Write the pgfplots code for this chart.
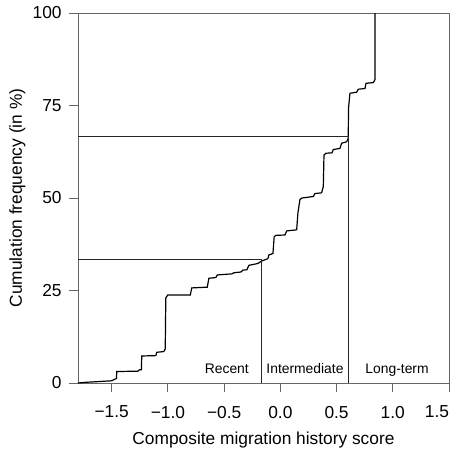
\documentclass[border=0pt]{standalone}
\usepackage{pgfplots}
\pgfplotsset{compat=1.18}
\usepackage{fontspec}
\setmainfont{Liberation Sans}

\begin{document}
\begin{tikzpicture}
\begin{axis}[
  scale only axis,
  width=278.25pt, height=277.5pt,
  xmin=-1.8, xmax=1.5,
  ymin=0, ymax=100,
  xtick={-1.5,-1,-0.5,0,0.5,1},
  xticklabels={−1.5,−1.0,−0.5,0.0,0.5,1.0},
  extra x ticks={1.5},
  extra x tick labels={1.5},
  extra x tick style={xticklabel style={xshift=-9pt}},
  ytick={0,25,50,75,100},
  xtick pos=bottom, ytick pos=left,
  tick align=outside,
  major tick length=6.75pt,
  axis line style={gray!80!black, line width=0.7pt},
  every tick/.style={gray!80!black, line width=0.7pt},
  tick label style={font=\fontsize{13}{15}\selectfont},
  /pgf/number format/assume math mode=true,
  xticklabel style={yshift=-7pt},
  yticklabel style={xshift=-2pt},
  label style={font=\fontsize{13}{15}\selectfont},
  xlabel={Composite migration history score},
  ylabel={Cumulation frequency (in \%)},
  xlabel style={at={(axis description cs:0.5,0)}, anchor=base, yshift=-45.75pt},
  ylabel style={yshift=-1.5pt},
  clip=false,
]
% empirical cumulative distribution
\addplot[black, line width=0.9pt] coordinates {
(-1.800,0) (-1.723,0.2) (-1.607,0.4) (-1.500,0.6) (-1.482,0.9) (-1.458,1.2)
(-1.455,3.1) (-1.268,3.2) (-1.251,3.6) (-1.236,3.6) (-1.233,7.3) (-1.108,7.4)
(-1.099,8.3) (-1.037,8.5) (-1.024,9.2) (-1.019,23.0) (-1.001,23.8) (-0.801,23.8)
(-0.788,25.7) (-0.650,25.9) (-0.636,28.3) (-0.574,28.5) (-0.561,29.2) (-0.431,29.5)
(-0.413,29.8) (-0.351,30.0) (-0.333,30.5) (-0.298,30.6) (-0.280,31.8) (-0.200,32.3)
(-0.164,33.0) (-0.111,33.6) (-0.102,34.6) (-0.066,35.0) (-0.055,39.5) (-0.040,39.9)
(0.041,40.0) (0.056,41.1) (0.145,41.4) (0.156,45.9) (0.174,49.6) (0.192,50.0)
(0.293,50.4) (0.308,51.2) (0.367,51.4) (0.382,53.1) (0.388,61.6) (0.406,62.1)
(0.459,62.2) (0.471,63.1) (0.530,63.4) (0.545,64.8) (0.590,65.2) (0.604,66.1)
(0.606,74.2) (0.619,78.3) (0.679,78.6) (0.693,79.4) (0.753,79.6) (0.762,81.0)
(0.827,81.2) (0.842,82.0) (0.842,100)
};
% tercile cut-offs
\addplot[gray!30!black, line width=0.6pt] coordinates {(-1.8,33.33) (-0.167,33.33) (-0.167,0)};
\addplot[gray!30!black, line width=0.6pt] coordinates {(-1.8,66.67) (0.605,66.67) (0.605,0)};
\node[anchor=base, font=\fontsize{10.4}{12}\selectfont] at (axis cs:-0.476,2.7) {Recent};
\node[anchor=base, font=\fontsize{10.4}{12}\selectfont] at (axis cs:0.219,2.7) {Intermediate};
\node[anchor=base, font=\fontsize{10.4}{12}\selectfont] at (axis cs:1.038,2.7) {Long-term};
\coordinate (ll) at (rel axis cs:0,0);
\coordinate (ur) at (rel axis cs:1,1);
\end{axis}
\pgfresetboundingbox
\path[use as bounding box] ([xshift=-58.5pt,yshift=-53.25pt]ll) rectangle ([xshift=0.75pt,yshift=9.75pt]ur);
\end{tikzpicture}
\end{document}
